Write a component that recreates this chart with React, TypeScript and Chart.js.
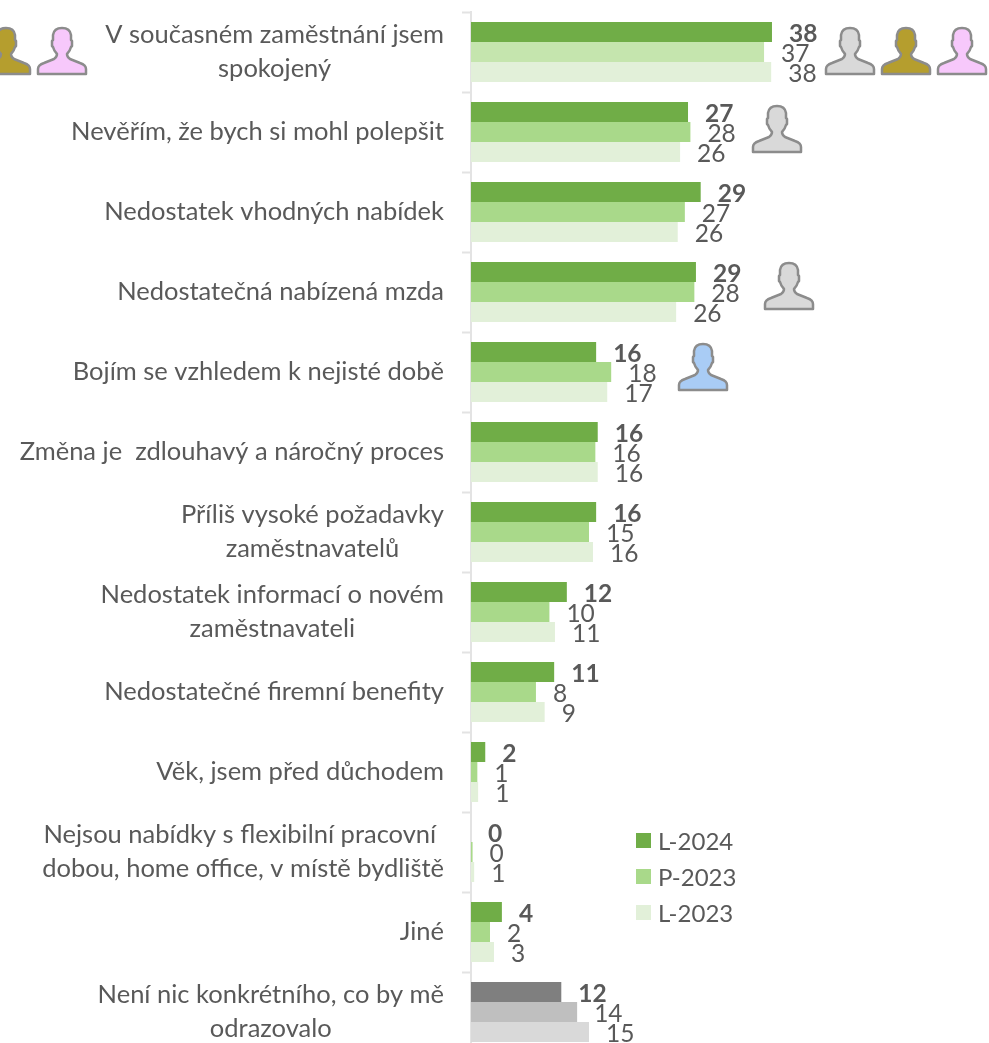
import React, { useEffect, useRef } from "react";
import { Chart, registerables } from "chart.js";

Chart.register(...registerables);

const categories = [
  ["V současném zaměstnání jsem", "spokojený"],
  ["Nevěřím, že bych si mohl polepšit"],
  ["Nedostatek vhodných nabídek"],
  ["Nedostatečná nabízená mzda"],
  ["Bojím se vzhledem k nejisté době"],
  ["Změna je  zdlouhavý a náročný proces"],
  ["Příliš vysoké požadavky", "zaměstnavatelů"],
  ["Nedostatek informací o novém", "zaměstnavateli"],
  ["Nedostatečné firemní benefity"],
  ["Věk, jsem před důchodem"],
  ["Nejsou nabídky s flexibilní pracovní ", "dobou, home office, v místě bydliště"],
  ["Jiné"],
  ["Není nic konkrétního, co by mě", "odrazovalo"],
];

const seriesNames = ["L-2024", "P-2023", "L-2023"];

// bar lengths
const l2024 = [38.0, 27.4, 29.0, 28.4, 15.8, 16.0, 15.8, 12.1, 10.5, 1.8, 0.0, 3.9, 11.4];
const p2023 = [37.0, 27.7, 27.0, 28.2, 17.7, 15.7, 14.9, 9.9, 8.2, 0.8, 0.2, 2.4, 13.4];
const l2023 = [37.9, 26.4, 26.1, 25.9, 17.2, 16.0, 15.4, 10.6, 9.3, 0.9, 0.4, 2.9, 14.9];

// printed data labels
const l2024Labels = [38, 27, 29, 29, 16, 16, 16, 12, 11, 2, 0, 4, 12];
const p2023Labels = [37, 28, 27, 28, 18, 16, 15, 10, 8, 1, 0, 2, 14];
const l2023Labels = [38, 26, 26, 26, 17, 16, 16, 11, 9, 1, 1, 3, 15];

const FONT = "Lato, sans-serif";
const TEXT = "#595959";
const GREEN_DARK = "#70AD47";
const GREEN_MID = "#A9D98A";
const GREEN_FIRST = "#C5E5AE";
const GREEN_LIGHT = "#E2F0D9";
const GREY_DARK = "#7F7F7F";
const GREY_MID = "#BFBFBF";
const GREY_LIGHT = "#D9D9D9";
const LAST = categories.length - 1;

const seriesColors = [GREEN_DARK, GREEN_MID, GREEN_LIGHT];
const seriesLabels = [l2024Labels, p2023Labels, l2023Labels];

const ICON_GREY = "#D9D9D9";
const ICON_OLIVE = "#B59E2E";
const ICON_PINK = "#F7C8FB";
const ICON_BLUE = "#A9CCF5";

const ICON_PATH =
  "M1,47 L1,42 Q1,38 7,36 L17,32 Q20,30 20,27 Q17,24 16,20 L15,19 L15,14 L16,13 L16,8 Q17,1 25,1 Q33,1 34,8 L34,13 L35,14 L35,19 L34,20 Q33,24 30,27 Q30,30 33,32 L43,36 Q49,38 49,42 L49,47 Z";

const iconPlacements = [
  { cat: 0, dy: -25, x: -19, fill: ICON_OLIVE },
  { cat: 0, dy: -25, x: 37, fill: ICON_PINK },
  { cat: 0, dy: -25, x: 825, fill: ICON_GREY },
  { cat: 0, dy: -25, x: 881, fill: ICON_OLIVE },
  { cat: 0, dy: -25, x: 937, fill: ICON_PINK },
  { cat: 1, dy: -27, x: 752, fill: ICON_GREY },
  { cat: 3, dy: -30, x: 764, fill: ICON_GREY },
  { cat: 4, dy: -29, x: 678, fill: ICON_BLUE },
];

const annotationsPlugin = {
  id: "annotations",
  afterDatasetsDraw(chart: any) {
    const ctx = chart.ctx;
    const yScale = chart.scales.y;
    ctx.save();

    // centred multi-line category labels, right-anchored to the axis
    ctx.fillStyle = TEXT;
    ctx.font = `25.5px ${FONT}`;
    ctx.textBaseline = "middle";
    ctx.textAlign = "center";
    const rightEdge = 444;
    const lineGap = 33.5;
    categories.forEach((lines, i) => {
      const widest = Math.max(...lines.map((l) => ctx.measureText(l).width));
      const cx = rightEdge - widest / 2;
      const cy = yScale.getPixelForValue(i);
      lines.forEach((line, k) => {
        ctx.fillText(line, cx, cy + (k - (lines.length - 1) / 2) * lineGap);
      });
    });

    // data labels
    ctx.textAlign = "left";
    chart.data.datasets.forEach((ds: any, d: number) => {
      const meta = chart.getDatasetMeta(d);
      ctx.font = `${d === 0 ? "bold " : ""}24.5px ${FONT}`;
      meta.data.forEach((bar: any, i: number) => {
        ctx.fillText(String(seriesLabels[d][i]), bar.x + 17, bar.y + 2);
      });
    });

    // legend
    seriesNames.forEach((name, i) => {
      const cy = 841 + i * 36;
      ctx.fillStyle = seriesColors[i];
      ctx.fillRect(636, cy - 8, 15, 15);
      ctx.fillStyle = TEXT;
      ctx.font = `24px ${FONT}`;
      ctx.fillText(name, 658, cy + 1);
    });

    // person icons
    const path = new Path2D(ICON_PATH);
    iconPlacements.forEach((p) => {
      ctx.save();
      ctx.translate(p.x, yScale.getPixelForValue(p.cat) + p.dy);
      ctx.fillStyle = p.fill;
      ctx.strokeStyle = "#8C8C8C";
      ctx.lineWidth = 2.5;
      ctx.lineJoin = "round";
      ctx.fill(path);
      ctx.stroke(path);
      ctx.restore();
    });

    ctx.restore();
  },
};

export default function App() {
  const ref = useRef<HTMLCanvasElement>(null);
  useEffect(() => {
    const chart = new Chart(ref.current as HTMLCanvasElement, {
      type: "bar",
      data: {
        labels: categories.map((c) => c.join(" ")),
        datasets: [
          {
            label: seriesNames[0],
            data: l2024,
            backgroundColor: l2024.map((_, i) => (i === LAST ? GREY_DARK : GREEN_DARK)),
          },
          {
            label: seriesNames[1],
            data: p2023,
            backgroundColor: p2023.map((_, i) =>
              i === LAST ? GREY_MID : i === 0 ? GREEN_FIRST : GREEN_MID
            ),
          },
          {
            label: seriesNames[2],
            data: l2023,
            backgroundColor: l2023.map((_, i) => (i === LAST ? GREY_LIGHT : GREEN_LIGHT)),
          },
        ],
      },
      options: {
        indexAxis: "y",
        animation: false,
        responsive: false,
        layout: { padding: { top: 12, bottom: 8, left: 0, right: 0 } },
        datasets: { bar: { categoryPercentage: 0.75, barPercentage: 1 } },
        plugins: { legend: { display: false }, tooltip: { enabled: false } },
        scales: {
          x: { display: false, min: 0, max: 65.4 },
          y: {
            type: "category",
            afterFit: (s: any) => {
              s.width = 471;
            },
            border: { color: "#E3E3E3", width: 2 },
            grid: {
              drawOnChartArea: false,
              drawTicks: true,
              tickLength: 9,
              tickWidth: 2,
              tickColor: "#E3E3E3",
            },
            ticks: { display: false },
          },
        },
      },
      plugins: [annotationsPlugin],
    } as any);
    return () => chart.destroy();
  }, []);
  return (
    <div
      style={{
        position: "fixed",
        left: 0,
        top: 0,
        width: 989,
        height: 1043,
        overflow: "hidden",
        background: "#fff",
      }}
    >
      <canvas ref={ref} width={989} height={1060} style={{ display: "block" }} />
    </div>
  );
}
